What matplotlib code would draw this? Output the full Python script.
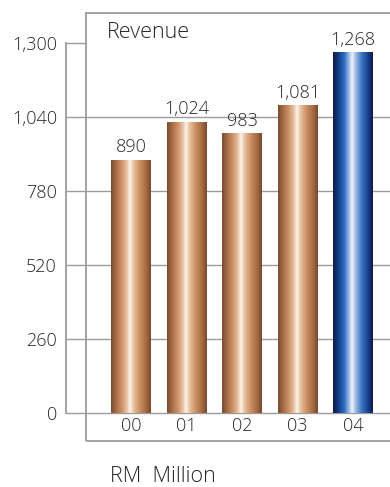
import numpy as np
import matplotlib
matplotlib.use("Agg")
import matplotlib.pyplot as plt
from matplotlib.colors import LinearSegmentedColormap
from matplotlib.patches import Rectangle

# Revenue, RM million
years = ["00", "01", "02", "03", "04"]
revenue = [890, 1024, 983, 1081, 1268]
value_labels = ["890", "1,024", "983", "1,081", "1,268"]
y_ticks = [0, 260, 520, 780, 1040, 1300]
y_tick_labels = ["0", "260", "520", "780", "1,040", "1,300"]

plt.rcParams["font.family"] = ["Open Sans", "DejaVu Sans"]
plt.rcParams["font.weight"] = "light"

DPI = 100
W, H = 390, 487
fig = plt.figure(figsize=(W / DPI, H / DPI), dpi=DPI)

def px(x0, y0, x1, y1):
    """Figure-fraction rectangle from pixel box (top-left origin)."""
    return [x0 / W, 1 - y1 / H, (x1 - x0) / W, (y1 - y0) / H]

ax = fig.add_axes(px(86, 13, 396, 441))
ax.set_facecolor("none")

# y scale: 0 at pixel 413, 260 units per 74 px
unit = 260 / 74.0
ylo = -(441 - 413) * unit
yhi = 1300 + (43 - 13) * unit
xc0, step = 131.0, 55.5
xlo = (86 - xc0) / step
xhi = (396 - xc0) / step

grey = "#9c9c9c"
txt = "#262626"

# gradient colour maps for the cylindrical bars
copper = LinearSegmentedColormap.from_list("copper_bar", [
    (0.00, "#7a4a2e"), (0.12, "#a36a44"), (0.28, "#cf956b"),
    (0.40, "#eac4a6"), (0.48, "#fdf6ef"), (0.56, "#e9c2a2"),
    (0.72, "#cc8f62"), (0.88, "#a66a42"), (1.00, "#77482d")])
blue = LinearSegmentedColormap.from_list("blue_bar", [
    (0.00, "#111a48"), (0.14, "#143c88"), (0.28, "#2a6bbf"),
    (0.40, "#9bbbe7"), (0.48, "#f2f6fd"), (0.56, "#a4c0e7"),
    (0.72, "#3a74c2"), (0.88, "#16408c"), (1.00, "#101846")])

# gridlines (the top value only gets a tick)
ax.hlines(y_ticks[:-1], xlo, xhi, colors=grey, lw=1.0, zorder=1)

# outer box
ax.add_patch(Rectangle((0, 0), 1, 1, transform=ax.transAxes, fill=False,
                       edgecolor=grey, lw=1.3, clip_on=False, zorder=5))

x = np.arange(len(years))
bar_w = 40 / step
bars = ax.bar(x, revenue, width=bar_w, color="none", edgecolor="none", zorder=3)
grad = np.linspace(0, 1, 256).reshape(1, -1)
for i, b in enumerate(bars):
    cmap = blue if i == len(bars) - 1 else copper
    x0, y0 = b.get_x(), b.get_y()
    im = ax.imshow(grad, cmap=cmap, aspect="auto", interpolation="bicubic",
                   extent=(x0, x0 + b.get_width(), y0, y0 + b.get_height()),
                   zorder=3)
    im.set_clip_path(b)

# value labels above bars
for xi, v, lab in zip(x, revenue, value_labels):
    ax.annotate(lab, (xi, v), xytext=(0, 2.5), textcoords="offset points",
                ha="center", va="bottom", fontsize=13, color=txt, zorder=6)

# category labels inside the box, below the zero line
for xi, lab in zip(x, years):
    ax.text(xi, -(426 - 413) * unit, lab, ha="center", va="center",
            fontsize=13, color=txt)

ax.set_xlim(xlo, xhi)
ax.set_ylim(ylo, yhi)

for s in ["top", "right", "bottom"]:
    ax.spines[s].set_visible(False)
ax.spines["left"].set_position(("outward", 20 * 72 / DPI))
ax.spines["left"].set_bounds(0, 1300)
ax.spines["left"].set_color(grey)
ax.spines["left"].set_linewidth(1.3)
ax.set_yticks(y_ticks)
ax.set_yticklabels(y_tick_labels)
ax.tick_params(axis="y", direction="in", length=20 * 72 / DPI, width=1.0,
               color=grey, pad=6.5, labelsize=13, labelcolor=txt)
ax.set_xticks([])

fig.text(107 / W, 1 - 32 / H, "Revenue", ha="left", va="center",
         fontsize=15.5, color=txt)
fig.text(110 / W, 1 - 477 / H, "RM  Million", ha="left", va="center",
         fontsize=15.5, color=txt)

fig.savefig("out.png", dpi=DPI)
